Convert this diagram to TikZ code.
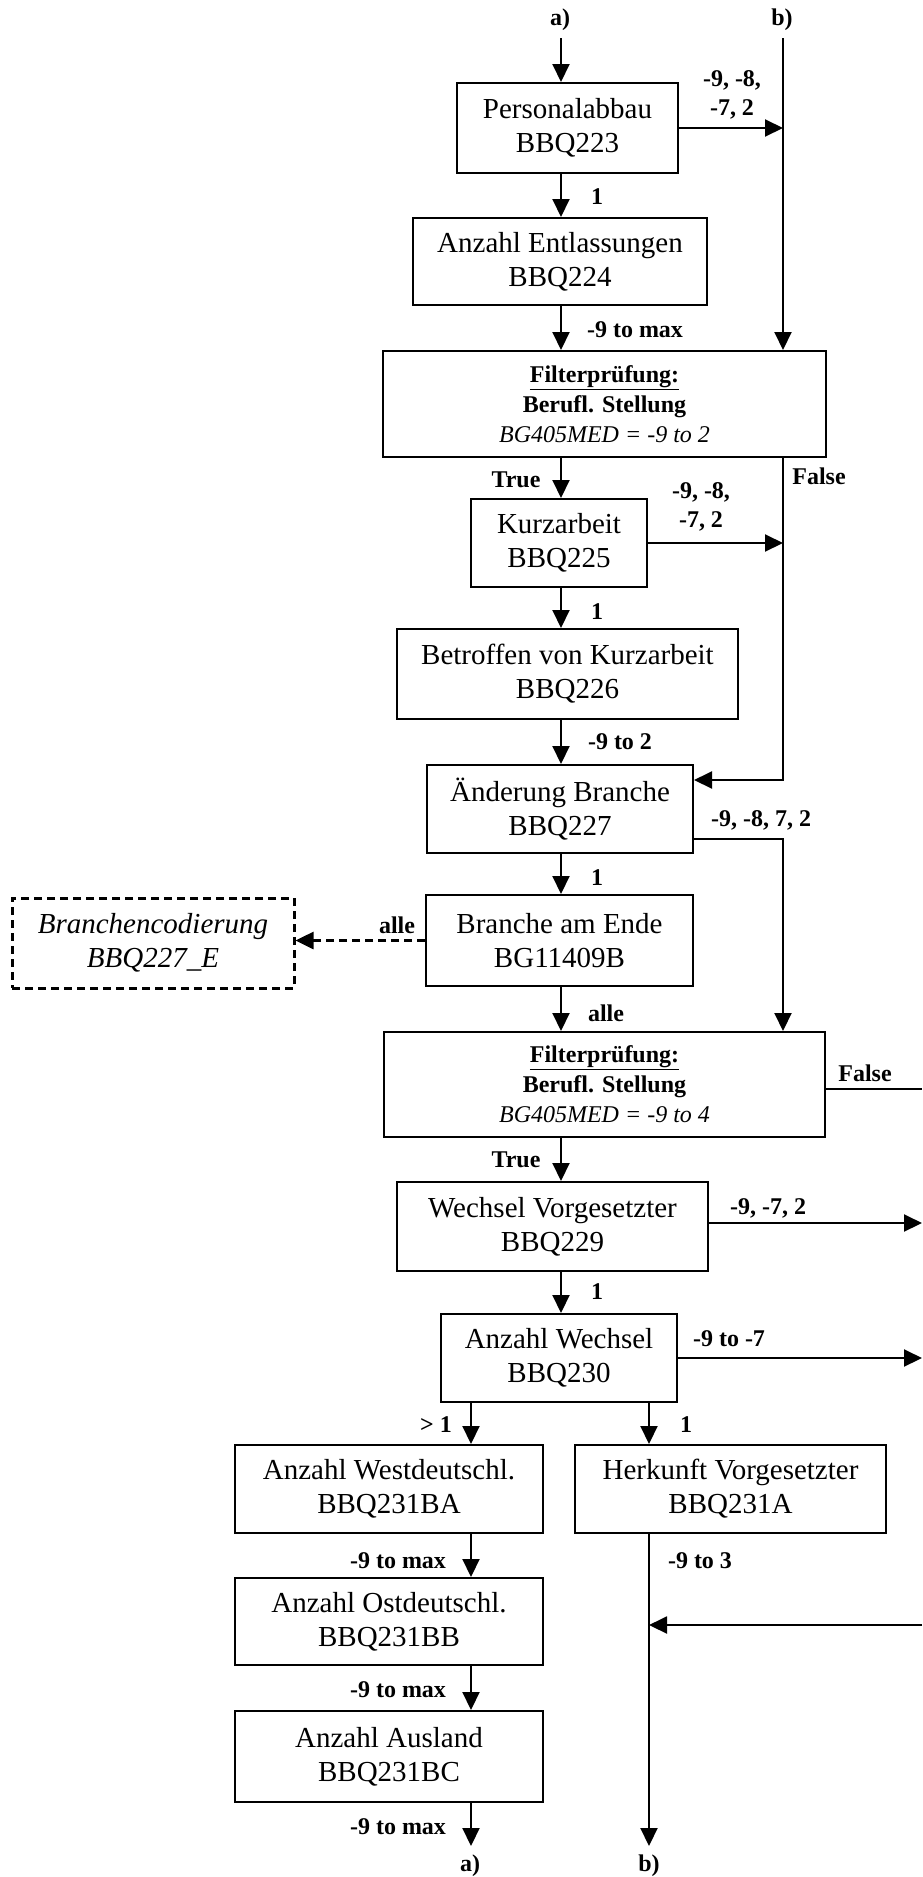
\documentclass[tikz,border=0pt]{standalone}
\usepackage{fontspec}
\setmainfont{Liberation Serif}
\usetikzlibrary{arrows.meta}
\begin{document}
\begin{tikzpicture}[x=1pt,y=-1pt,
 box/.style={draw, line width=2pt, inner sep=0pt, align=center, font=\fontsize{29}{34}\selectfont},
 dbox/.style={box, line width=3pt, dash pattern=on 8pt off 5pt, font=\fontsize{29}{34}\selectfont\itshape},
 filt/.style={box, font=\fontsize{24}{30}\selectfont},
 lab/.style={inner sep=0pt, align=center, font=\fontsize{24}{29}\selectfont\bfseries},
 arr/.style={line width=2pt, -{Triangle[length=18pt,width=17pt]}},
 ln/.style={line width=2pt},
 darr/.style={arr, line width=2.6pt, dash pattern=on 8pt off 5pt}]
\path[use as bounding box, fill=white] (0,0) rectangle (922,1877);

% guide coordinates
\coordinate (ma) at (561,0);
\coordinate (rb) at (783,0);
\coordinate (lc) at (471,0);
\coordinate (rc) at (649,0);
\coordinate (atop) at (561,38);
\coordinate (btop) at (783,38);
\coordinate (c1) at (783,780);
\coordinate (c2) at (783,839);
\coordinate (e1) at (922,1089);
\coordinate (e2) at (922,1223);
\coordinate (e3) at (922,1358);
\coordinate (e4) at (922,1625);
\coordinate (aend) at (471,1846);
\coordinate (bend) at (649,1846);

% boxes
\node[box, minimum width=221pt, minimum height=90pt] (p223) at (567.5,128) {Personalabbau\\BBQ223};
\node[box, minimum width=294pt, minimum height=87pt] (e224) at (560,261.5) {Anzahl Entlassungen\\BBQ224};
\node[filt, minimum width=443pt, minimum height=106pt] (f1) at (604.5,404) {\textbf{\underline{Filterprüfung:}}\\\textbf{Berufl. Stellung}\\\textit{BG405MED = -9 to 2}};
\node[box, minimum width=176pt, minimum height=88pt] (k225) at (559,543) {Kurzarbeit\\BBQ225};
\node[box, minimum width=341pt, minimum height=90pt] (b226) at (567.5,674) {Betroffen von Kurzarbeit\\BBQ226};
\node[box, minimum width=266pt, minimum height=88pt] (a227) at (560,809) {Änderung Branche\\BBQ227};
\node[box, minimum width=267pt, minimum height=91pt] (br) at (559.5,940.5) {Branche am Ende\\BG11409B};
\node[dbox, minimum width=282pt, minimum height=90pt] (bc) at (153,943) {Branchencodierung\\BBQ227\_E};
\node[filt, minimum width=441pt, minimum height=105pt] (f2) at (604.5,1084.5) {\textbf{\underline{Filterprüfung:}}\\\textbf{Berufl. Stellung}\\\textit{BG405MED = -9 to 4}};
\node[box, minimum width=311pt, minimum height=89pt] (w229) at (552.5,1226.5) {Wechsel Vorgesetzter\\BBQ229};
\node[box, minimum width=236pt, minimum height=88pt] (aw230) at (559,1358) {Anzahl Wechsel\\BBQ230};
\node[box, minimum width=308pt, minimum height=88pt] (wd) at (389,1489) {Anzahl Westdeutschl.\\BBQ231BA};
\node[box, minimum width=311pt, minimum height=88pt] (hk) at (730.5,1489) {Herkunft Vorgesetzter\\BBQ231A};
\node[box, minimum width=308pt, minimum height=87pt] (od) at (389,1621.5) {Anzahl Ostdeutschl.\\BBQ231BB};
\node[box, minimum width=308pt, minimum height=91pt] (al) at (389,1756.5) {Anzahl Ausland\\BBQ231BC};

% labels
\node[lab] (la1) at (560,20) {a)};
\node[lab] (lb1) at (782,20) {b)};
\node[lab] (l1) at (732,95) {-9, -8,\\-7, 2};
\node[lab] (l2) at (597,197) {1};
\node[lab] (l3) at (635,330) {-9 to max};
\node[lab] (l4) at (516,480) {True};
\node[lab] (l5) at (819,476) {False};
\node[lab] (l6) at (701,507) {-9, -8,\\-7, 2};
\node[lab] (l7) at (597,612) {1};
\node[lab] (l8) at (620,742) {-9 to 2};
\node[lab] (l9) at (761,820) {-9, -8, 7, 2};
\node[lab] (l10) at (597,878) {1};
\node[lab] (l11) at (397,925) {alle};
\node[lab] (l12) at (606,1013) {alle};
\node[lab] (l13) at (865,1073) {False};
\node[lab] (l14) at (516,1160) {True};
\node[lab] (l15) at (768,1208) {-9, -7, 2};
\node[lab] (l16) at (597,1292) {1};
\node[lab] (l17) at (729,1339) {-9 to -7};
\node[lab] (l18) at (436,1425) {> 1};
\node[lab] (l19) at (686,1425) {1};
\node[lab] (l20) at (398,1561) {-9 to max};
\node[lab] (l21) at (398,1690) {-9 to max};
\node[lab] (l22) at (398,1827) {-9 to max};
\node[lab] (l23) at (700,1561) {-9 to 3};
\node[lab] (la2) at (470,1866) {a)};
\node[lab] (lb2) at (649,1866) {b)};

% connectors
\draw[arr] (atop) -- (p223.north -| ma);
\draw[arr] (btop) -- (f1.north -| rb);
\draw[arr] (p223.east) -- (p223.east -| rb);
\draw[arr] (p223.south -| ma) -- (e224.north -| ma);
\draw[arr] (e224.south -| ma) -- (f1.north -| ma);
\draw[arr] (f1.south -| ma) -- (k225.north -| ma);
\draw[arr] (k225.east) -- (k225.east -| rb);
\draw[arr] (k225.south -| ma) -- (b226.north -| ma);
\draw[arr] (b226.south -| ma) -- (a227.north -| ma);
\draw[arr] (f1.south -| rb) -- (c1) -- (a227.east |- c1);
\draw[arr] (a227.east |- c2) -- (c2) -- (f2.north -| rb);
\draw[arr] (a227.south -| ma) -- (br.north -| ma);
\draw[darr] (br.west) -- (br.west -| bc.east);
\draw[arr] (br.south -| ma) -- (f2.north -| ma);
\draw[ln] (f2.east |- e1) -- (e1);
\draw[arr] (f2.south -| ma) -- (w229.north -| ma);
\draw[arr] (w229.east |- e2) -- (e2);
\draw[arr] (w229.south -| ma) -- (aw230.north -| ma);
\draw[arr] (aw230.east) -- (e3);
\draw[arr] (aw230.south -| lc) -- (wd.north -| lc);
\draw[arr] (aw230.south -| rc) -- (hk.north -| rc);
\draw[arr] (wd.south -| lc) -- (od.north -| lc);
\draw[arr] (od.south -| lc) -- (al.north -| lc);
\draw[arr] (al.south -| lc) -- (aend);
\draw[arr] (hk.south -| rc) -- (bend);
\draw[arr] (e4) -- (rc |- e4);
\end{tikzpicture}
\end{document}
